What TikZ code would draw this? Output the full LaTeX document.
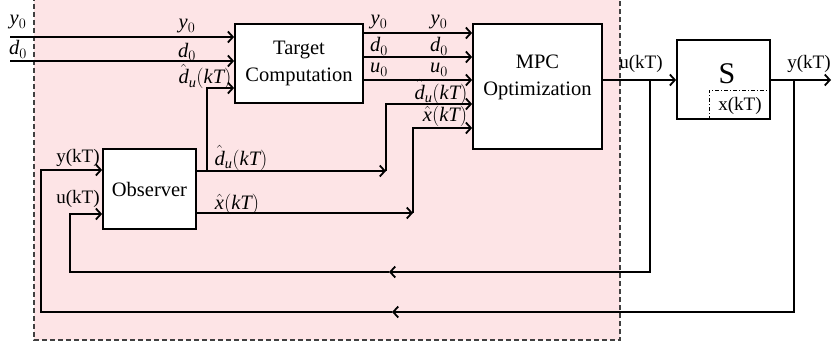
\RequirePackage{fix-cm}
\documentclass[tikz,border=0pt]{standalone}
\usepackage{fontspec}
\setmainfont{Liberation Serif}
% serif italic letters and upright digits/parentheses for the formulas
\DeclareSymbolFont{letters}{TU}{\rmdefault}{m}{it}
\DeclareSymbolFont{lsup}{TU}{\rmdefault}{m}{n}
\DeclareMathSymbol{(}{\mathopen}{lsup}{"28}
\DeclareMathSymbol{)}{\mathclose}{lsup}{"29}
\DeclareMathSymbol{0}{\mathalpha}{lsup}{"30}
\usetikzlibrary{arrows.meta}
\definecolor{zone}{RGB}{253,228,230}
\begin{document}
\begin{tikzpicture}[x=1pt,y=-1pt,
  wire/.style={line width=1.8pt},
  arr/.style={wire,-{Straight Barb[length=5pt,width=11pt]}},
  box/.style={draw,line width=1.8pt,fill=white,inner sep=0pt},
  lbl/.style={font=\fontsize{19}{22}\selectfont,anchor=base,inner sep=0pt},
  mlbl/.style={font=\fontsize{20.5}{22}\selectfont,anchor=base,inner sep=0pt},
  btxt/.style={font=\fontsize{20.5}{27}\selectfont,align=center,inner sep=0pt}]
\useasboundingbox (0,0) rectangle (832,345);

% controller region
\draw[fill=zone,draw=black!75,line width=1.1pt,dash pattern=on 5pt off 3pt]
  (34,-4) rectangle (620,340);

% blocks
\node[box,btxt,minimum width=128pt,minimum height=79pt] (tc) at (299,63.5) {Target\\Computation};
\node[box,minimum width=129pt,minimum height=125pt] (mpc) at (537.5,86.5) {};
\node[btxt] (mpctext) at (537.5,77) {MPC\\Optimization};
\node[box,minimum width=93pt,minimum height=79pt] (sys) at (723.5,79.5) {};
\node[font=\fontsize{30}{32}\selectfont,inner sep=0pt] (stext) at (727,74) {S};
\node[box,btxt,minimum width=93pt,minimum height=80pt] (obs) at (149.5,189) {Observer};

% internal state of the plant
\coordinate (xs) at (709,90);
\draw[line width=0.8pt,dash pattern=on 4pt off 2pt on 1pt off 2pt]
  (xs |- sys.south) -- (xs) -- (xs -| sys.east);
\node[lbl] (xlab) at (740,110) {x(kT)};

% references into target computation
\coordinate (yin) at (10,37);
\coordinate (din) at (10,61);
\draw[arr] (yin) -- (yin -| tc.west);
\draw[arr] (din) -- (din -| tc.west);
\node[mlbl] (ly0a) at (18,25) {$y_0$};
\node[mlbl] (ld0a) at (18,55) {$d_0$};
\node[mlbl] (ly0b) at (187,29) {$y_0$};
\node[mlbl] (ld0b) at (187,57) {$d_0$};

% disturbance estimate into target computation
\coordinate (dsplit) at (207,171);
\draw[arr] (dsplit) |- (tc.west |- 0,88);
\node[mlbl] (ldua) at (205,84) {$\hat d_u(kT)$};

% targets into MPC
\draw[arr] (tc.east |- 0,33) -- (mpc.west |- 0,33);
\draw[arr] (tc.east |- 0,57) -- (mpc.west |- 0,57);
\draw[arr] (tc.east |- 0,80) -- (mpc.west |- 0,80);
\node[mlbl] (ly0c) at (379,25) {$y_0$};
\node[mlbl] (ld0c) at (379,52) {$d_0$};
\node[mlbl] (lu0c) at (379,73) {$u_0$};
\node[mlbl] (ly0d) at (439,25) {$y_0$};
\node[mlbl] (ld0d) at (439,52) {$d_0$};
\node[mlbl] (lu0d) at (439,73) {$u_0$};

% observer estimates into MPC
\coordinate (dcorner) at (386,171);
\coordinate (xcorner) at (413,213);
\draw[arr] (obs.east |- dcorner) -- (dcorner);
\draw[arr] (dcorner) |- (mpc.west |- 0,104);
\draw[arr] (obs.east |- xcorner) -- (xcorner);
\draw[arr] (xcorner) |- (mpc.west |- 0,128);
\node[mlbl] (ldub) at (241,165) {$\hat d_u(kT)$};
\node[mlbl] (lxb) at (237,209) {$\hat x(kT)$};
\node[mlbl] (lduc) at (441,99) {$\hat d_u(kT)$};
\node[mlbl] (lxc) at (445,121) {$\hat x(kT)$};

% control input to the plant and back to the observer
\coordinate (ubr) at (650,80);
\coordinate (uback) at (389,272);
\coordinate (uup) at (70,214);
\draw[arr] (mpc.east |- ubr) -- (ubr -| sys.west);
\draw[arr] (ubr) |- (uback);
\draw[arr] (uback) -| (uup) -- (uup -| obs.west);
\node[lbl] (lu) at (641,68) {u(kT)};
\node[lbl] (luo) at (78,203) {u(kT)};

% measured output and back to the observer
\coordinate (ybr) at (794,80);
\coordinate (yout) at (831,80);
\coordinate (yback) at (392,312);
\coordinate (yup) at (41,170);
\draw[arr] (sys.east |- ybr) -- (yout);
\draw[arr] (ybr) |- (yback);
\draw[arr] (yback) -| (yup) -- (yup -| obs.west);
\node[lbl] (ly) at (809,68) {y(kT)};
\node[lbl] (lyo) at (78,162) {y(kT)};
\end{tikzpicture}
\end{document}
